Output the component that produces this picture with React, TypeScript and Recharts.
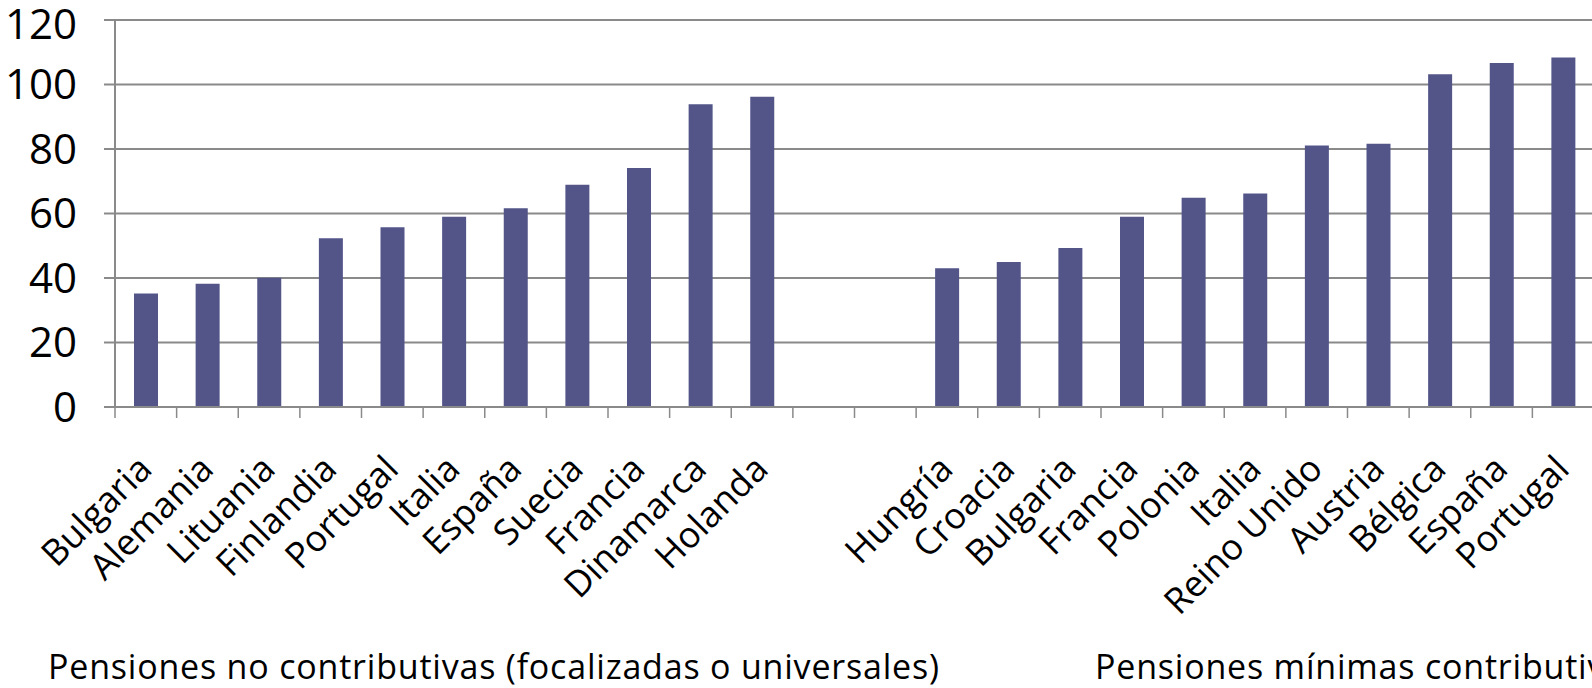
import { Bar, BarChart, CartesianGrid, XAxis, YAxis } from 'recharts';

const noContribCountries = ['Bulgaria', 'Alemania', 'Lituania', 'Finlandia', 'Portugal', 'Italia', 'España', 'Suecia', 'Francia', 'Dinamarca', 'Holanda'];
const noContribValues = [35.2, 38.2, 40.1, 52.3, 55.7, 59.0, 61.6, 68.9, 74.1, 93.9, 96.2];
const gapSlots = ['', ''];
const minContribCountries = ['Hungría', 'Croacia', 'Bulgaria', 'Francia', 'Polonia', 'Italia', 'Reino Unido', 'Austria', 'Bélgica', 'España', 'Portugal'];
const minContribValues = [43.0, 45.0, 49.3, 59.0, 64.9, 66.2, 81.1, 81.6, 103.2, 106.7, 108.4];
const yTicks = [0, 20, 40, 60, 80, 100, 120];
const groupLabels = ['Pensiones no contributivas (focalizadas o universales)', 'Pensiones mínimas contributivas'];

const BAR_COLOR = '#535589';
const LINE_COLOR = '#8a8a8a';
const FONT = '"Open Sans", sans-serif';

interface Row {
    slot: string;
    label: string;
    value: number | null;
}

const chartData: Row[] = [
    ...noContribCountries.map((label, i) => ({ label, value: noContribValues[i] })),
    ...gapSlots.map((label) => ({ label, value: null })),
    ...minContribCountries.map((label, i) => ({ label, value: minContribValues[i] })),
].map((row, i) => ({ ...row, slot: String(i) }));

function CountryTick({ x, y, payload }: { x?: number; y?: number; payload?: { value: string; offset?: number } }) {
    const cx = x ?? 0;
    const cy = y ?? 0;
    const half = payload?.offset ?? 0;
    const label = chartData[Number(payload?.value)]?.label ?? '';
    const ax = cx + 8;
    const ay = cy + 64;
    return (
        <g>
            <line x1={cx - half} x2={cx - half} y1={cy} y2={cy + 11} stroke={LINE_COLOR} strokeWidth={1.5} />
            {label && (
                <text
                    x={ax}
                    y={ay}
                    textAnchor="end"
                    transform={`rotate(-45 ${ax} ${ay})`}
                    fontSize={36}
                    fontFamily={FONT}
                    fill="#000"
                >
                    {label}
                </text>
            )}
        </g>
    );
}

const groupStyle = {
    position: 'absolute' as const,
    top: 643,
    fontSize: 34,
    letterSpacing: 0.8,
    fontFamily: FONT,
    whiteSpace: 'nowrap' as const,
    color: '#000',
};

export default function App() {
    return (
        <div style={{ position: 'fixed', left: 0, top: 0, width: 1592, height: 688, overflow: 'hidden', background: '#fff' }}>
            <BarChart width={1600} height={688} data={chartData} margin={{ top: 20, right: 6, left: 0, bottom: 0 }}>
                <CartesianGrid vertical={false} stroke={LINE_COLOR} strokeWidth={2} />
                <XAxis
                    dataKey="slot"
                    interval={0}
                    height={281}
                    tickSize={0}
                    tickMargin={0}
                    tickLine={false}
                    axisLine={{ stroke: LINE_COLOR, strokeWidth: 2 }}
                    tick={<CountryTick />}
                />
                <YAxis
                    domain={[0, 120]}
                    ticks={yTicks}
                    width={115}
                    tickSize={11}
                    tickMargin={27}
                    axisLine={{ stroke: LINE_COLOR, strokeWidth: 2 }}
                    tickLine={{ stroke: LINE_COLOR, strokeWidth: 2 }}
                    tick={{ fontSize: 42, fill: '#000', fontFamily: FONT }}
                />
                <Bar dataKey="value" fill={BAR_COLOR} barSize={24} isAnimationActive={false} />
            </BarChart>
            <div style={{ ...groupStyle, left: 48 }}>{groupLabels[0]}</div>
            <div style={{ ...groupStyle, left: 1095 }}>{groupLabels[1]}</div>
        </div>
    );
}
